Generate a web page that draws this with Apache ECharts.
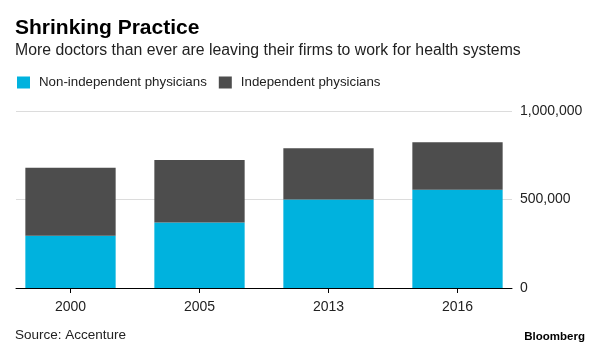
<!DOCTYPE html>
<html><head><meta charset="utf-8">
<script src="https://cdn.jsdelivr.net/npm/echarts@6/dist/echarts.min.js"></script>
<style>html,body{margin:0;padding:0;background:#fff}#c{width:600px;height:350px}</style>
</head><body><div id="c"></div>
<script>
const categories = ['2000', '2005', '2013', '2016'];
const nonIndependent = [295000, 370000, 500000, 555000];
const independent = [385000, 353000, 290000, 268000];
const yTicks = [0, 500000, 1000000];

const FONT = '"Liberation Sans", Arial, sans-serif';
const chart = echarts.init(document.getElementById('c'), null, {renderer: 'canvas'});
chart.setOption({
  animation: false,
  textStyle: {fontFamily: FONT},
  title: [
    {text: 'Shrinking Practice', left: 15, top: 18, padding: 0, textStyle: {fontFamily: FONT, fontSize: 21, fontWeight: 'bold', color: '#000'}},
    {text: 'More doctors than ever are leaving their firms to work for health systems', left: 15, top: 43, padding: 0, textStyle: {fontFamily: FONT, fontSize: 15.8, fontWeight: 'normal', color: '#222'}},
    {text: 'Source: Accenture', left: 15, top: 328, padding: 0, textStyle: {fontFamily: FONT, fontSize: 13.5, fontWeight: 'normal', color: '#222'}},
    {text: 'Bloomberg', right: 15, top: 331, padding: 0, textStyle: {fontFamily: FONT, fontSize: 11.5, fontWeight: 'bold', color: '#000'}}
  ],
  legend: {
    left: 17, top: 76, padding: 0, itemWidth: 13, itemHeight: 12, itemGap: 12, icon: 'rect',
    textStyle: {fontFamily: FONT, fontSize: 13.3, color: '#222', padding: [0,0,0,4]},
    data: ['Non-independent physicians', 'Independent physicians']
  },
  grid: [
    {left: 6, right: 78, top: 111, bottom: 62},
    {left: 16, right: 88, top: 111, bottom: 62}
  ],
  xAxis: [
    {
      type: 'category', data: categories, gridIndex: 0,
      axisLine: {show: false},
      axisTick: {show: true, alignWithLabel: true, length: 5, lineStyle: {color: '#000'}},
      axisLabel: {fontFamily: FONT, fontSize: 14, color: '#222', margin: 12}
    },
    {
      type: 'category', data: categories, gridIndex: 1,
      axisLine: {show: true, lineStyle: {color: '#000', width: 1}},
      axisTick: {show: false}, axisLabel: {show: false}, splitLine: {show: false}
    }
  ],
  yAxis: [
    {
      type: 'value', gridIndex: 0, min: 0, max: 1000000, interval: 500000,
      show: false, splitLine: {show: false}
    },
    {
      type: 'value', gridIndex: 1, position: 'right', min: 0, max: 1000000, interval: 500000,
      axisLine: {show: false}, axisTick: {show: false},
      splitLine: {lineStyle: {color: '#dcdcdc', width: 1}},
      axisLabel: {fontFamily: FONT, fontSize: 14, color: '#222', margin: 8,
        formatter: v => yTicks.includes(v) ? v.toLocaleString('en-US') : ''}
    }
  ],
  series: [
    {name: 'Non-independent physicians', type: 'bar', stack: 'a', data: nonIndependent,
     xAxisIndex: 0, yAxisIndex: 0, barCategoryGap: '30%', itemStyle: {color: '#00b2de'}},
    {name: 'Independent physicians', type: 'bar', stack: 'a', data: independent,
     xAxisIndex: 0, yAxisIndex: 0, barCategoryGap: '30%', itemStyle: {color: '#4d4d4d'}}
  ]
});
</script></body></html>
